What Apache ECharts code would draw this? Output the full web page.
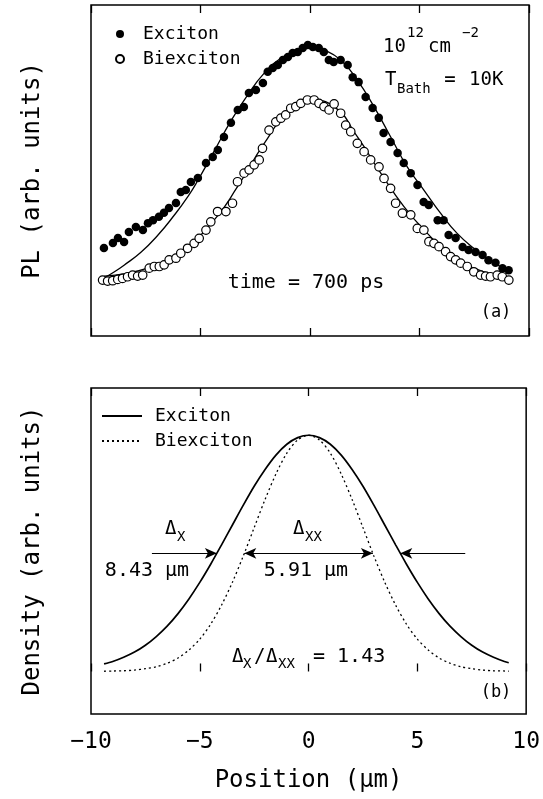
<!DOCTYPE html>
<html>
<head>
<meta charset="utf-8">
<script src="https://cdn.jsdelivr.net/npm/echarts@6/dist/echarts.min.js"></script>
<style>html,body{margin:0;padding:0;background:#fff;}#chart{width:543px;height:799px;}</style>
</head>
<body>
<div id="chart"></div>
<script>
// ---- Panel (a): PL profiles at t = 700 ps ----
var excitonX = [-9.41,-9.00,-8.77,-8.49,-8.27,-7.95,-7.63,-7.40,-7.17,-6.90,-6.67,-6.44,-6.12,-5.90,-5.67,-5.44,-5.12,-4.75,-4.44,-4.21,-3.93,-3.61,-3.30,-3.02,-2.79,-2.47,-2.15,-1.93,-1.70,-1.47,-1.24,-1.01,-0.79,-0.56,-0.33,-0.10,0.13,0.40,0.63,0.86,1.08,1.40,1.72,1.95,2.22,2.54,2.86,3.14,3.36,3.68,4.00,4.28,4.60,4.91,5.19,5.42,5.83,6.10,6.33,6.65,6.97,7.24,7.56,7.88,8.15,8.47,8.79,9.07];
var excitonPL = [26.6,28.1,29.6,28.4,31.4,32.9,32.0,34.1,35.0,36.0,37.2,38.7,40.2,43.5,44.1,46.5,47.7,52.3,54.1,56.2,60.1,64.4,68.3,69.2,73.4,74.3,76.4,79.8,81.0,81.9,83.4,84.3,85.5,85.8,87.0,87.9,87.3,87.0,85.8,83.4,82.8,83.4,81.9,78.2,76.7,72.2,68.9,65.9,61.3,58.6,55.3,52.3,49.2,45.6,40.5,39.6,35.0,35.0,30.5,29.6,26.9,26.0,25.4,24.5,22.9,22.1,20.5,19.9];
var biexcitonX = [-9.47,-9.24,-9.01,-8.78,-8.56,-8.33,-8.10,-7.87,-7.64,-7.34,-7.11,-6.88,-6.66,-6.43,-6.12,-5.90,-5.59,-5.29,-5.06,-4.75,-4.53,-4.22,-3.84,-3.54,-3.31,-3.01,-2.78,-2.55,-2.32,-2.17,-1.87,-1.56,-1.33,-1.11,-0.88,-0.65,-0.42,-0.12,0.19,0.41,0.64,0.87,1.10,1.40,1.63,1.86,2.16,2.47,2.77,3.15,3.38,3.68,3.91,4.22,4.60,4.90,5.20,5.43,5.66,5.89,6.19,6.42,6.65,6.88,7.18,7.48,7.79,8.02,8.24,8.55,8.78,9.08];
var biexcitonPL = [16.9,16.6,16.7,17.1,17.4,17.9,18.4,18.1,18.4,20.5,21.0,21.0,21.5,23.0,23.5,25.0,26.5,28.0,29.5,32.0,34.5,37.6,37.6,40.1,46.6,49.2,50.2,51.7,53.2,56.7,62.2,64.7,65.8,66.8,68.8,69.3,70.3,71.3,71.3,70.3,69.3,68.3,70.1,67.3,63.7,61.7,58.2,55.7,53.2,51.1,47.6,44.6,40.1,37.1,36.6,32.5,32.0,28.5,28.0,27.0,25.5,24.0,23.0,22.0,21.0,19.4,18.4,18.1,17.9,18.4,17.9,16.9];
var excitonFitX = [-9.39,-9.00,-8.49,-7.72,-6.94,-6.21,-5.57,-5.13,-4.38,-3.61,-2.85,-2.09,-1.33,-0.57,-0.04,0.49,1.40,2.16,2.92,3.68,4.44,5.20,5.96,6.72,7.48,8.24,9.08];
var excitonFitPL = [17.6,19.1,21.4,25.3,30.5,36.4,42.2,46.9,55.8,65.0,72.8,79.4,83.9,86.6,87.9,86.9,83.4,77.3,69.3,60.2,51.1,44.1,37.1,31.0,26.5,22.9,19.4];
var biexcitonFitX = [-9.39,-7.41,-5.90,-4.38,-3.31,-2.09,-1.03,0.03,1.10,2.16,3.23,4.29,5.36,6.42,7.48,9.08];
var biexcitonFitPL = [18.1,20.5,25.5,35.0,45.1,58.2,67.3,71.3,69.3,60.2,49.2,39.1,31.0,24.5,20.5,17.4];

// ---- Panel (b): density profiles ----
var densityX = [-9.4,-9,-8.5,-8,-7.5,-7,-6.5,-6,-5.5,-5,-4.5,-4,-3.5,-3,-2.5,-2,-1.5,-1,-0.5,0,0.5,1,1.5,2,2.5,3,3.5,4,4.5,5,5.5,6,6.5,7,7.5,8,8.5,9,9.2];
var excitonDensity = [0.032,0.042,0.060,0.082,0.111,0.148,0.192,0.245,0.307,0.377,0.454,0.536,0.620,0.704,0.784,0.855,0.916,0.962,0.990,1.000,0.990,0.962,0.916,0.855,0.784,0.704,0.620,0.536,0.454,0.377,0.307,0.245,0.192,0.148,0.111,0.082,0.060,0.042,0.037];
var biexcitonDensity = [0.001,0.002,0.003,0.006,0.012,0.020,0.035,0.057,0.091,0.137,0.200,0.281,0.378,0.489,0.609,0.728,0.836,0.924,0.980,1.000,0.980,0.924,0.836,0.728,0.609,0.489,0.378,0.281,0.200,0.137,0.091,0.057,0.035,0.020,0.012,0.006,0.003,0.002,0.001];
var halfMaxLevel = 0.5;
var excitonArrowOuter = 7.2;
var excitonHalfWidth = 4.215;
var biexcitonHalfWidth = 2.955;

// ---- Axis ticks ----
var xTicks = [-10, -5, 0, 5, 10];

function zip(xs, ys) { return xs.map(function (x, i) { return [x, ys[i]]; }); }

var MONO = "'DejaVu Sans Mono', monospace";
var chart = echarts.init(document.getElementById('chart'), null, {renderer: 'canvas'});

function tickFmt(v) { return v < 0 ? '\u2212' + Math.abs(v) : String(v); }

function xAxisCfg(gridIndex, pos, showLabels, name) {
  return {
    type: 'value', gridIndex: gridIndex, position: pos,
    min: xTicks[0], max: xTicks[xTicks.length - 1], interval: xTicks[1] - xTicks[0],
    axisLine: {show: false},
    axisTick: {show: true, inside: true, length: 8, lineStyle: {color: '#000', width: 1.3}},
    splitLine: {show: false},
    axisLabel: {show: showLabels, formatter: tickFmt, color: '#000', fontFamily: MONO, fontSize: 23, margin: 17},
    name: name || '', nameLocation: 'middle', nameGap: 55,
    nameTextStyle: {color: '#000', fontFamily: MONO, fontSize: 24}
  };
}
function yAxisCfg(gridIndex, min, max, name) {
  return {
    type: 'value', gridIndex: gridIndex, min: min, max: max,
    axisLine: {show: false}, axisTick: {show: false}, axisLabel: {show: false}, splitLine: {show: false},
    name: name, nameLocation: 'middle', nameRotate: 90, nameGap: 46,
    nameTextStyle: {color: '#000', fontFamily: MONO, fontSize: 24}
  };
}

function txt(text, x, y, size, align) {
  return {type: 'text', x: x, y: y, z: 100,
    style: {text: text, fontFamily: MONO, fontSize: size, fill: '#000', align: align || 'left', verticalAlign: 'middle'}};
}

var option = {
  backgroundColor: '#fff',
  animation: false,
  grid: [
    {left: 91, top: 5, width: 438, height: 331, show: true, borderColor: '#000', borderWidth: 1.5},
    {left: 91, top: 388, width: 438, height: 326, show: true, borderColor: '#000', borderWidth: 1.5}
  ],
  xAxis: [
    xAxisCfg(0, 'bottom', false),
    xAxisCfg(0, 'top', false),
    xAxisCfg(1, 'bottom', true, 'Position (\u03bcm)'),
    xAxisCfg(1, 'top', false)
  ],
  yAxis: [
    yAxisCfg(0, 0, 100, 'PL (arb. units)'),
    yAxisCfg(1, -0.18, 1.2, 'Density (arb. units)')
  ],
  legend: [
    {
      orient: 'vertical', left: 110, top: 20, itemWidth: 36, itemHeight: 8, itemGap: 7,
      data: [{name: 'Exciton', icon: 'circle'}, {name: 'Biexciton', icon: 'circle'}],
      textStyle: {color: '#000', fontFamily: MONO, fontSize: 18}
    },
    {
      orient: 'vertical', left: 96, top: 402, itemWidth: 40, itemHeight: 8, itemGap: 7,
      data: ['Exciton ', 'Biexciton '],
      itemStyle: {opacity: 0},
      lineStyle: {inherit: true},
      textStyle: {color: '#000', fontFamily: MONO, fontSize: 18, padding: [0, 0, 0, 8]}
    }
  ],
  series: [
    {name: 'Exciton fit', type: 'line', xAxisIndex: 0, yAxisIndex: 0, data: zip(excitonFitX, excitonFitPL),
      smooth: 0.5, symbol: 'none', lineStyle: {color: '#000', width: 1.3}, z: 2},
    {name: 'Biexciton fit', type: 'line', xAxisIndex: 0, yAxisIndex: 0, data: zip(biexcitonFitX, biexcitonFitPL),
      smooth: 0.5, symbol: 'none', lineStyle: {color: '#000', width: 1.3}, z: 2},
    {name: 'Exciton', type: 'scatter', xAxisIndex: 0, yAxisIndex: 0, data: zip(excitonX, excitonPL),
      symbol: 'circle', symbolSize: 8.5, itemStyle: {color: '#000', opacity: 1}, z: 3},
    {name: 'Biexciton', type: 'scatter', xAxisIndex: 0, yAxisIndex: 0, data: zip(biexcitonX, biexcitonPL),
      symbol: 'circle', symbolSize: 8.5, itemStyle: {color: '#fff', borderColor: '#000', borderWidth: 1.2, opacity: 1}, z: 4},
    {name: 'Exciton ', type: 'line', xAxisIndex: 2, yAxisIndex: 1, data: zip(densityX, excitonDensity),
      smooth: 0.3, symbol: 'none', lineStyle: {color: '#000', width: 1.7}, itemStyle: {color: '#000'}, z: 2,
      markLine: {
        silent: true, symbol: ['none', 'arrow'], symbolSize: [8, 12],
        label: {show: false},
        lineStyle: {color: '#000', width: 1.2, type: 'solid', opacity: 1},
        itemStyle: {opacity: 1},
        data: [
          [{coord: [-excitonArrowOuter, halfMaxLevel]}, {coord: [-excitonHalfWidth, halfMaxLevel]}],
          [{coord: [excitonArrowOuter, halfMaxLevel]}, {coord: [excitonHalfWidth, halfMaxLevel]}],
          [{coord: [-biexcitonHalfWidth, halfMaxLevel], symbol: 'arrow'}, {coord: [biexcitonHalfWidth, halfMaxLevel]}]
        ]
      }},
    {name: 'Biexciton ', type: 'line', xAxisIndex: 2, yAxisIndex: 1, data: zip(densityX, biexcitonDensity),
      smooth: 0.3, symbol: 'none', lineStyle: {color: '#000', width: 1.3, type: [2, 3]}, itemStyle: {color: '#000'}, z: 2}
  ],
  graphic: [
    txt('10', 383, 47, 19), txt('12', 407, 33, 14), txt('cm', 428, 47, 19), txt('\u22122', 462, 33, 14),
    txt('T', 385, 80, 19), txt('Bath', 397, 89, 14), txt('=', 450, 80, 19, 'center'), txt('10K', 469, 80, 19),
    txt('time = 700 ps', 306, 283, 20, 'center'),
    txt('(a)', 496, 313, 17, 'center'),
    txt('\u0394', 165, 529, 19), txt('X', 177, 537, 14),
    txt('\u0394', 293, 529, 19), txt('XX', 305, 537, 14),
    txt('8.43 \u03bcm', 147, 571, 20, 'center'),
    txt('5.91 \u03bcm', 306, 571, 20, 'center'),
    txt('\u0394', 232, 657, 19), txt('X', 243, 664, 14), txt('/', 254, 657, 19),
    txt('\u0394', 266, 657, 19), txt('XX', 278, 664, 14), txt('= 1.43', 313, 657, 20),
    txt('(b)', 496, 693, 17, 'center')
  ]
};
chart.setOption(option);
</script>
</body>
</html>
